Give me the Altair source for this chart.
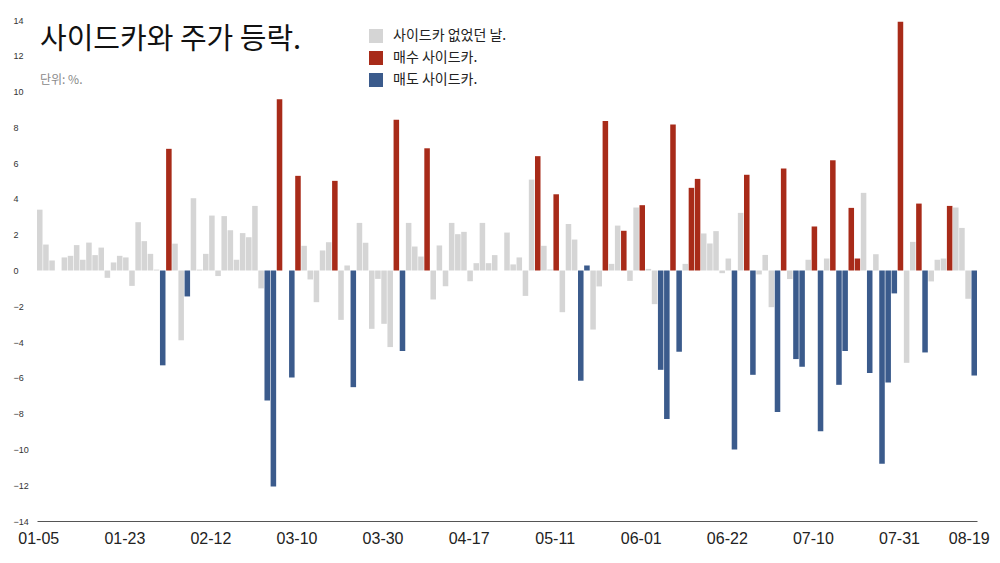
import altair as alt
import pandas as pd

# daily change (%) per trading day, left to right
values = [
    3.4, 1.45, 0.56, 0.0, 0.73, 0.82, 1.42, 0.6, 1.56, 0.86,
    1.28, -0.41, 0.45, 0.82, 0.73, -0.86, 2.7, 1.64, 0.93, 0.05,
    -5.3, 6.8, 1.5, -3.9, -1.45, 4.04, 0.05, 0.93, 3.07, -0.31,
    3.04, 2.25, 0.6, 2.09, 1.86, 3.61, -1.0, -7.26, -12.07, 9.57,
    0.0, -5.98, 5.29, 1.38, -0.5, -1.77, 1.12, 1.58, 5.01, -2.76,
    0.28, -6.52, 2.66, 1.55, -3.26, -0.47, -2.98, -4.28, 8.42, -4.5,
    2.66, 1.34, 0.78, 6.83, -1.62, 1.4, -0.88, 2.66, 2.03, 2.16,
    -0.6, 0.41, 2.66, 0.41, 0.86, 0.0, 2.12, 0.34, 0.73, -1.42,
    5.08, 6.39, 1.38, 0.06, 4.26, -2.33, 2.6, 1.73, -6.16, 0.28,
    -3.3, -0.89, 8.36, 0.37, 2.51, 2.22, -0.58, 3.52, 3.65, 0.09,
    -1.88, -5.55, -8.3, 8.16, -4.54, 0.37, 4.62, 5.12, 2.07, 1.51,
    2.2, -0.15, 0.67, -10.0, 3.22, 5.35, -5.83, -0.22, 0.87, -2.05,
    -7.91, 5.7, -0.48, -4.95, -5.38, 0.6, 2.46, -8.98, 0.67, 6.16,
    -6.39, -4.5, 3.5, 0.67, 4.34, -5.73, 0.91, -10.8, -6.26, -1.28,
    13.9, -5.16, 1.6, 3.74, -4.58, -0.61, 0.6, 0.67, 3.61, 3.52,
    2.38, -1.58, -5.87,
]

# n = no sidecar, b = buy sidecar, s = sell sidecar
kinds = (
    "nnnnnnnnnn"
    "nnnnnnnnnn"
    "sbnnsnnnnn"
    "nnnnnnnssb"
    "nsbnnnnnbn"
    "nsnnnnnnbs"
    "nnnbnnnnnn"
    "nnnnnnnnnn"
    "nbnnbnnnss"
    "nnbnnbnnbn"
    "nssbsnbbnn"
    "nnnsnbsnnn"
    "sbnssnbsnb"
    "ssbbnsnsss"
    "bnnbsnnnbn"
    "nns"
)

kind_names = {"n": "사이드카 없었던 날.", "b": "매수 사이드카.", "s": "매도 사이드카."}
kind_order = ["사이드카 없었던 날.", "매수 사이드카.", "매도 사이드카."]
kind_colors = ["#d5d5d5", "#a82b19", "#3b5b8c"]

label_idx = [0, 14, 28, 42, 56, 70, 84, 98, 112, 126, 140, 152]
label_txt = ["01-05", "01-23", "02-12", "03-10", "03-30", "04-17",
             "05-11", "06-01", "06-22", "07-10", "07-31", "08-19"]

y_ticks = list(range(-14, 15, 2))

title_text = "사이드카와 주가 등락."
subtitle_text = "단위: %."

df = pd.DataFrame({
    "i": list(range(len(values))),
    "v": values,
    "k": [kind_names[c] for c in kinds],
})

expr = "''"
for idx, txt in reversed(list(zip(label_idx, label_txt))):
    expr = f"datum.value == {idx} ? '{txt}' : ({expr})"

last_idx = label_idx[-1]
FONT = "Noto Sans CJK KR"

bars = alt.Chart(df).mark_bar().encode(
    x=alt.X(
        "i:O",
        scale=alt.Scale(paddingInner=0.1, paddingOuter=0),
        axis=alt.Axis(
            values=label_idx, labelExpr=expr, title=None, ticks=False,
            domain=True, domainColor="#555", domainWidth=1,
            labelFontSize=16, labelAngle=0, labelPadding=9,
            labelFont="Liberation Sans", labelColor="#222",
            labelOffset={"condition": {"test": f"datum.value == {last_idx}", "value": -5},
                         "value": -1},
        ),
    ),
    y=alt.Y(
        "v:Q",
        scale=alt.Scale(domain=[-14, 14], nice=False),
        axis=alt.Axis(
            values=y_ticks, title=None, ticks=False, domain=False, grid=False,
            labelFontSize=9, labelAlign="left", labelPadding=24,
            labelFont="Liberation Sans", labelColor="#333",
        ),
    ),
    color=alt.Color(
        "k:N",
        scale=alt.Scale(domain=kind_order, range=kind_colors),
        legend=alt.Legend(
            title=None, orient="none", legendX=332, legendY=9,
            symbolType="square", symbolSize=196, symbolStrokeWidth=0,
            symbolOpacity=1, labelFontSize=14, labelFont=FONT,
            labelColor="#222", rowPadding=8, labelOffset=10,
        ),
    ),
)

title = alt.Chart(pd.DataFrame({"t": [title_text]})).mark_text(
    align="left", baseline="middle", fontSize=29, font=FONT, color="#111"
).encode(text="t:N", x=alt.value(3), y=alt.value(20))

subtitle = alt.Chart(pd.DataFrame({"t": [subtitle_text]})).mark_text(
    align="left", baseline="middle", fontSize=12, font=FONT, color="#888"
).encode(text="t:N", x=alt.value(3), y=alt.value(60))

chart = alt.layer(bars, title, subtitle).properties(
    width=940, height=501,
    autosize=alt.AutoSizeParams(type="none"),
    padding={"left": 29, "top": 12, "right": 15, "bottom": 30},
).configure(background="white").configure_view(stroke=None)

chart.save("out.html", embed_options={"renderer": "svg", "actions": False})
